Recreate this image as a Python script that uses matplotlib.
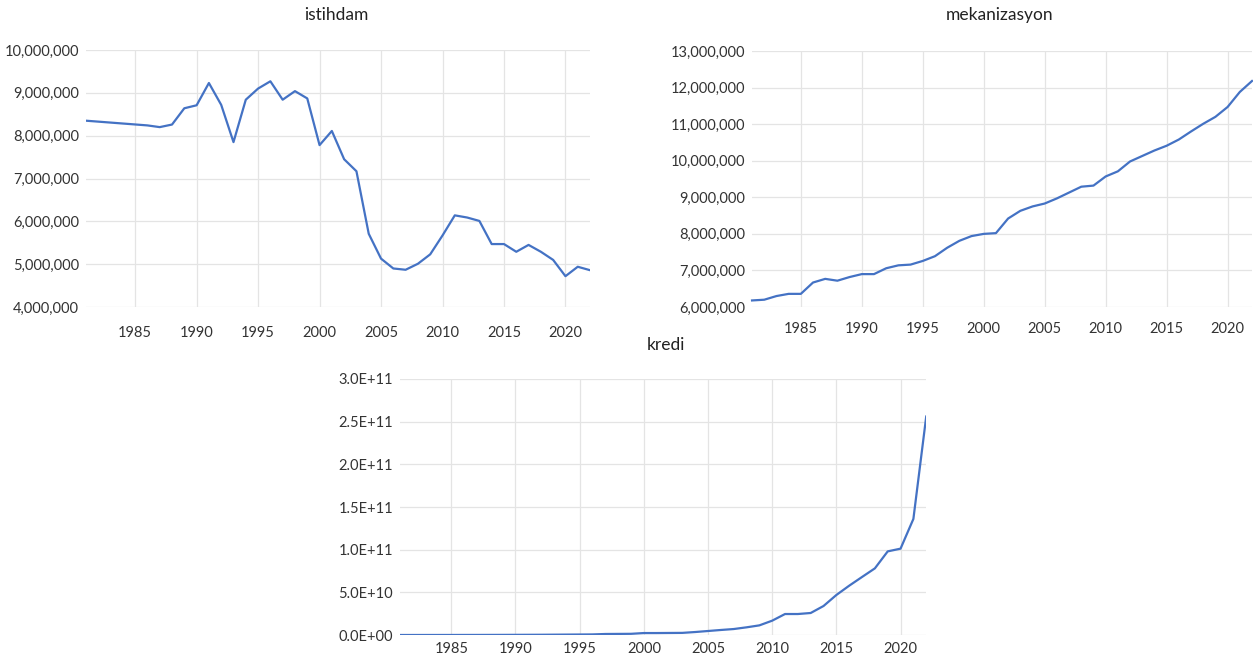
import numpy as np
import matplotlib
matplotlib.use("Agg")
import matplotlib.pyplot as plt
from matplotlib.ticker import FuncFormatter

plt.rcParams['font.family'] = ['Lato', 'DejaVu Sans']

# istihdam (1982-1985 missing in the source, line just joins the gap)
ist_years = [1981] + list(range(1986, 2023))
istihdam = [8.35, 8.24, 8.20, 8.26, 8.64, 8.71, 9.23, 8.72, 7.85, 8.84,
            9.10, 9.27, 8.84, 9.04, 8.87, 7.78, 8.11, 7.45, 7.17, 5.71,
            5.13, 4.90, 4.87, 5.01, 5.23, 5.67, 6.14, 6.09, 6.01, 5.47,
            5.47, 5.29, 5.45, 5.29, 5.10, 4.72, 4.94, 4.86]
istihdam = [v * 1e6 for v in istihdam]

years = list(range(1981, 2023))
mekanizasyon = [6.18, 6.20, 6.30, 6.36, 6.36, 6.67, 6.77, 6.72, 6.82, 6.90,
                6.90, 7.06, 7.14, 7.16, 7.26, 7.39, 7.62, 7.81, 7.94, 8.00,
                8.02, 8.42, 8.63, 8.75, 8.83, 8.97, 9.13, 9.29, 9.32, 9.57,
                9.71, 9.98, 10.13, 10.28, 10.41, 10.58, 10.80, 11.01, 11.20,
                11.47, 11.88, 12.18]
mekanizasyon = [v * 1e6 for v in mekanizasyon]

# kredi, in billions
kredi = [0.02, 0.02, 0.03, 0.04, 0.05, 0.07, 0.09, 0.12, 0.15, 0.2,
         0.25, 0.3, 0.4, 0.5, 0.6, 0.7, 1.2, 1.3, 1.4, 2.3,
         2.3, 2.4, 2.5, 3.5, 4.7, 5.9, 7.0, 9.0, 11.3, 16.8,
         24.6, 24.6, 25.8, 34.0, 46.9, 57.8, 68.0, 78.1, 98.0, 101.2,
         136.0, 256.0]
kredi = [v * 1e9 for v in kredi]

blue = '#4472C4'
grid = '#E4E4E4'
txt = '#333333'

fig = plt.figure(figsize=(12.53, 6.59), dpi=100)


def style(ax, ymin, ymax, ystep, fmt, xpad):
    ax.set_xlim(1981, 2022)
    ax.set_ylim(ymin, ymax)
    ax.set_yticks(np.arange(ymin, ymax + ystep / 2, ystep))
    ax.set_xticks(range(1985, 2021, 5))
    ax.yaxis.set_major_formatter(FuncFormatter(fmt))
    ax.grid(True, color=grid, lw=0.9)
    ax.set_axisbelow(True)
    for s in ax.spines.values():
        s.set_visible(False)
    ax.tick_params(length=0, labelsize=10.5, labelcolor=txt)
    ax.tick_params(axis='y', pad=5)
    ax.tick_params(axis='x', pad=xpad)


comma = lambda v, p: f"{v:,.0f}"
sci = lambda v, p: f"{v:.1E}"

ax1 = fig.add_axes([0.0686, 0.5341, 0.4023, 0.39])
ax1.plot(ist_years, istihdam, color=blue, lw=1.6)
style(ax1, 4e6, 10e6, 1e6, comma, 14)

ax2 = fig.add_axes([0.6002, 0.5341, 0.3990, 0.3885])
ax2.plot(years, mekanizasyon, color=blue, lw=1.6, clip_on=False)
style(ax2, 6e6, 13e6, 1e6, comma, 11)

ax3 = fig.add_axes([0.3192, 0.0364, 0.4200, 0.3885])
ax3.plot(years, kredi, color=blue, lw=1.6)
style(ax3, 0, 3e11, 5e10, sci, 5)

tkw = dict(ha='center', va='center', fontsize=12.5, color='#222222')
fig.text(336 / 1253, 1 - 15 / 659, 'istihdam', **tkw)
fig.text(1000 / 1253, 1 - 15 / 659, 'mekanizasyon', **tkw)
fig.text(666 / 1253, 1 - 345 / 659, 'kredi', **tkw)

fig.savefig('out.png', dpi=100)
